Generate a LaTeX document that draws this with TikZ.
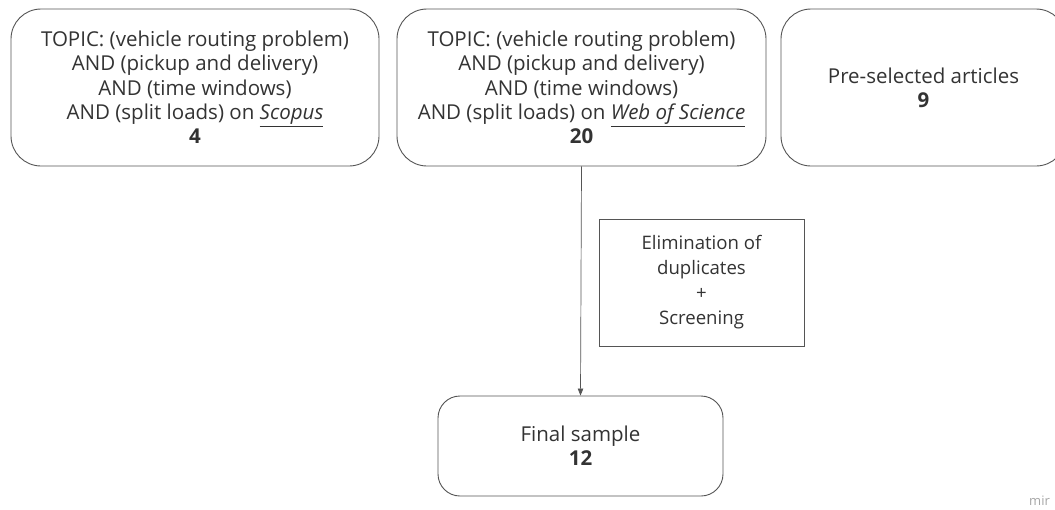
\documentclass[tikz,border=0pt]{standalone}
\usepackage{fontspec}
\setmainfont{Open Sans}
\usetikzlibrary{arrows.meta}
\definecolor{txt}{HTML}{333333}
\definecolor{ln}{HTML}{555555}
\tikzset{
  rbox/.style={draw=ln, line width=0.9pt, rounded corners=30pt, align=center, text=txt, font=\fontsize{20.5}{24.3}\selectfont, inner sep=0pt},
  sbox/.style={draw=ln, line width=0.9pt, align=center, text=txt, font=\fontsize{18.6}{25}\selectfont, inner sep=0pt},
  conn/.style={draw=ln, line width=0.7pt, -{Triangle[length=7pt,width=5.5pt]}}
}
\begin{document}
\begin{tikzpicture}[x=1pt,y=1pt]
\useasboundingbox (0,0) rectangle (1055,-509);
\clip (0,0) rectangle (1055,-509);
\fill[white] (0,0) rectangle (1055,-509);
\node[rbox, minimum width=368pt, minimum height=157pt] (scopus) at (195,-87.5)
  {TOPIC: (vehicle routing problem)\\AND (pickup and delivery)\\AND (time windows)\\AND (split loads) on \underline{\textit{Scopus}}\\\textbf{4}};
\node[rbox, minimum width=369pt, minimum height=157pt] (wos) at (581.5,-87.5)
  {TOPIC: (vehicle routing problem)\\AND (pickup and delivery)\\AND (time windows)\\AND (split loads) on \underline{\textit{Web of Science}}\\\textbf{20}};
\node[rbox, minimum width=285pt, minimum height=157pt] (pre) at (923.5,-87.5)
  {Pre-selected articles\\\textbf{9}};
\node[sbox, minimum width=205pt, minimum height=127pt] (elim) at (701.5,-282.5)
  {Elimination of\\duplicates\\+\\Screening};
\node[rbox, rounded corners=22pt, minimum width=285pt, minimum height=100pt] (final) at (580.5,-446)
  {Final sample\\\textbf{12}};
\draw[conn] (wos.south) -- (final.north);
\node[anchor=base west, text=black!35, font=\fontsize{13}{13}\selectfont, inner sep=0pt] (mark) at (1029,-505) {mir};
\end{tikzpicture}
\end{document}
